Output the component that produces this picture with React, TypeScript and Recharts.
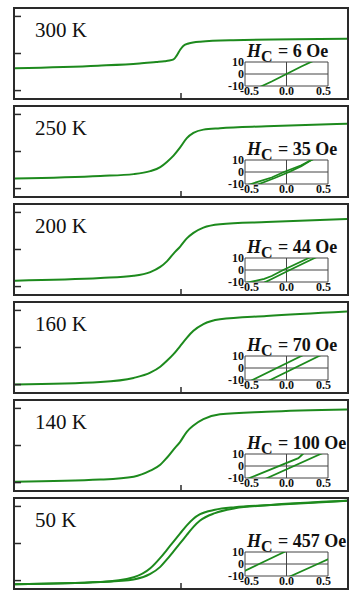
import React from 'react'
import { LineChart, Line, XAxis, YAxis, ReferenceLine, ReferenceArea } from 'recharts'

const GREEN = '#1d8a1d'
const INK = '#2a2a2a'
const SERIF = '"Liberation Serif", "Times New Roman", serif'

// panel labels
const temps = ['300 K', '250 K', '200 K', '160 K', '140 K', '50 K']
const coercive = [6, 35, 44, 70, 100, 457]

// main curves: field (kOe) vs normalised moment
const field300 = [-20, -10, -5, -3, -2, -1.4, -0.9, -0.5, -0.1, 0.3, 0.9, 2.3, 6.3, 20]
const m300 = [-0.4, -0.33, -0.27, -0.23, -0.21, -0.19, -0.16, -0.05, 0.1, 0.21, 0.27, 0.32, 0.36, 0.4]

const fieldMid = [-20, -9.7, -5.7, -3.7, -2.5, -1.7, -0.9, -0.1, 0.7, 1.5, 2.7, 4.7, 10.3, 20]
const m250 = [-0.73, -0.66, -0.61, -0.53, -0.42, -0.28, -0.11, 0.11, 0.36, 0.5, 0.59, 0.63, 0.68, 0.75]
const m200 = [-0.84, -0.77, -0.71, -0.61, -0.47, -0.32, -0.11, 0.08, 0.3, 0.45, 0.59, 0.68, 0.74, 0.82]
const m160 = [-1.0, -0.93, -0.82, -0.68, -0.52, -0.36, -0.18, 0.04, 0.26, 0.45, 0.63, 0.76, 0.85, 0.97]
const m140 = [-0.98, -0.92, -0.84, -0.68, -0.52, -0.33, -0.11, 0.1, 0.37, 0.54, 0.71, 0.84, 0.91, 0.97]

const field50 = [-20, -9.7, -5.7, -3.7, -2.5, -1.7, -0.9, -0.1, 0.7, 1.5, 2.3, 4.1, 6.5, 10.3, 20]
const m50Down = [-1.1, -1.04, -0.91, -0.67, -0.39, -0.17, 0.05, 0.27, 0.49, 0.67, 0.79, 0.91, 0.98, 1.03, 1.15]
const m50Up = [-1.1, -1.04, -0.97, -0.82, -0.63, -0.43, -0.21, 0.01, 0.23, 0.45, 0.62, 0.82, 0.95, 1.03, 1.15]

// insets: low field loops (kOe vs emu/g)
const in300H = [-0.45, -0.2, 0, 0.2, 0.45]
const in300M = [-13.5, -6.2, 0, 6.2, 13.5]

const in250aH = [-0.62, -0.48, -0.2, -0.035, 0.2, 0.35, 0.6]
const in250aM = [-12.5, -10, -4.6, 0, 5.6, 10.4, 16]
const in250bH = [-0.45, -0.37, -0.15, 0.035, 0.2, 0.33, 0.6]
const in250bM = [-14, -10, -4.8, 0, 4.9, 9.8, 18]

const in200aH = [-0.6, -0.5, -0.3, -0.2, -0.044, 0.3, 0.45]
const in200aM = [-11.2, -10.2, -7.4, -5, 0, 10, 14.5]
const in200bH = [-0.38, -0.3, -0.2, 0.044, 0.38, 0.55]
const in200bM = [-13, -10.5, -7.5, 0, 10, 15]

const in160aH = [-0.6, -0.46, 0.2, 0.32]
const in160aM = [-14.3, -10, 10, 13.7]
const in160bH = [-0.35, -0.22, 0.44, 0.6]
const in160bM = [-14, -10, 10, 14.8]

const in140aH = [-0.62, -0.5, 0.16, 0.22, 0.26]
const in140aM = [-12.8, -10, 6.5, 10, 12.5]
const in140bH = [-0.36, -0.26, 0.46, 0.6]
const in140bM = [-12.8, -10, 10, 13.9]

const in50aH = [-0.7, -0.37, -0.03, 0.1]
const in50aM = [-9.6, 0, 10, 13.8]
const in50bH = [-0.1, 0.06, 0.42, 0.7]
const in50bM = [-14.5, -10, 0, 8]

const toPts = (h: number[], m: number[]) => h.map((v, i) => ({ h: v, m: m[i] }))

const mainCurves = [
  [toPts(field300, m300)],
  [toPts(fieldMid, m250)],
  [toPts(fieldMid, m200)],
  [toPts(fieldMid, m160)],
  [toPts(fieldMid, m140)],
  [toPts(field50, m50Down), toPts(field50, m50Up)],
]

const insetCurves = [
  [toPts(in300H, in300M)],
  [toPts(in250aH, in250aM), toPts(in250bH, in250bM)],
  [toPts(in200aH, in200aM), toPts(in200bH, in200bM)],
  [toPts(in160aH, in160aM), toPts(in160bH, in160bM)],
  [toPts(in140aH, in140aM), toPts(in140bH, in140bM)],
  [toPts(in50aH, in50aM), toPts(in50bH, in50bM)],
]

const PANEL_TOP = 7
const PANEL_STEP = 98
const PANEL_H = 91

const insetTick = { fontFamily: SERIF, fontSize: 12, fontWeight: 700, fill: '#111' }
const blank = () => ''

function Inset({ curves }: { curves: { h: number; m: number }[][] }) {
  return (
    <LineChart width={122} height={46} margin={{ top: 6, right: 13, bottom: 0, left: 0 }}>
      <XAxis
        type="number"
        dataKey="h"
        domain={[-0.56, 0.56]}
        ticks={[-0.5, 0, 0.5]}
        interval={0}
        allowDataOverflow
        axisLine={false}
        tickLine={false}
        tickSize={0}
        tickMargin={0}
        height={16}
        tickFormatter={(v: number) => v.toFixed(1)}
        tick={insetTick}
      />
      <YAxis
        type="number"
        domain={[-10, 10]}
        ticks={[-10, 0, 10]}
        interval={0}
        allowDataOverflow
        axisLine={false}
        tickLine={false}
        tickSize={0}
        tickMargin={1}
        width={26}
        tick={insetTick}
      />
      <ReferenceArea x1={-0.56} x2={0.56} y1={-10} y2={10} fill="none" stroke="#444" strokeWidth={1} />
      <ReferenceLine x={0} stroke="#444" strokeWidth={1} />
      <ReferenceLine y={0} stroke="#444" strokeWidth={1} />
      {curves.map((c, i) => (
        <Line key={i} data={c} dataKey="m" type="linear" stroke={GREEN} strokeWidth={1.8} dot={false} isAnimationActive={false} />
      ))}
    </LineChart>
  )
}

function Panel({ index }: { index: number }) {
  const top = PANEL_TOP + index * PANEL_STEP
  const last = index === temps.length - 1
  const tickStyle = { stroke: INK, strokeWidth: 1.5 }

  return (
    <>
      <div
        style={{
          position: 'absolute',
          left: 13,
          top,
          width: 336,
          height: PANEL_H + 2,
          border: `2px solid ${INK}`,
          boxSizing: 'border-box',
        }}
      />
      <div style={{ position: 'absolute', left: 0, top: top + 2 }}>
        <LineChart width={358} height={last ? PANEL_H - 2 + 20 : PANEL_H - 2} margin={{ top: 0, right: 11, bottom: 0, left: 15 }}>
          <XAxis
            xAxisId="t"
            type="number"
            dataKey="h"
            domain={[-20, 20]}
            ticks={[0]}
            mirror
            tickFormatter={blank}
            tickSize={5}
            axisLine={false}
            tickLine={tickStyle}
            allowDataOverflow
          />
          {last && (
            <XAxis
              xAxisId="l"
              type="number"
              dataKey="h"
              domain={[-20, 20]}
              ticks={[-20, 0, 20]}
              interval={0}
              axisLine={false}
              tickLine={false}
              tickSize={0}
              tickMargin={3}
              height={20}
              tick={{ fontFamily: SERIF, fontSize: 17, fill: '#111' }}
            />
          )}
          <YAxis
            type="number"
            domain={[-1.2, 1.2]}
            ticks={[-1, 0, 1]}
            mirror
            tickFormatter={blank}
            tickSize={6}
            axisLine={false}
            tickLine={tickStyle}
            allowDataOverflow
          />
          {mainCurves[index].map((c, i) => (
            <Line
              key={i}
              xAxisId="t"
              data={c}
              dataKey="m"
              type="monotone"
              stroke={GREEN}
              strokeWidth={2}
              dot={false}
              isAnimationActive={false}
            />
          ))}
        </LineChart>
      </div>
      <div
        style={{
          position: 'absolute',
          left: 35,
          top: top + 13,
          fontFamily: SERIF,
          fontSize: 21,
          lineHeight: '21px',
          color: '#111',
        }}
      >
        {temps[index]}
      </div>
      <div
        style={{
          position: 'absolute',
          left: 247,
          top: top + 35,
          fontFamily: SERIF,
          fontSize: 18,
          fontWeight: 700,
          lineHeight: '18px',
          color: '#111',
          whiteSpace: 'nowrap',
        }}
      >
        <i>H</i>
        <span style={{ position: 'relative', top: 5, fontSize: 16, marginRight: 1 }}>C</span> = {coercive[index]} Oe
      </div>
      <div style={{ position: 'absolute', left: 219, top: top + 49 }}>
        <Inset curves={insetCurves[index]} />
      </div>
    </>
  )
}

export default function App() {
  return (
    <div style={{ position: 'absolute', left: 0, top: 0, width: 358, height: 606, background: '#fff', overflow: 'hidden' }}>
      {temps.map((_, i) => (
        <Panel key={i} index={i} />
      ))}
    </div>
  )
}
